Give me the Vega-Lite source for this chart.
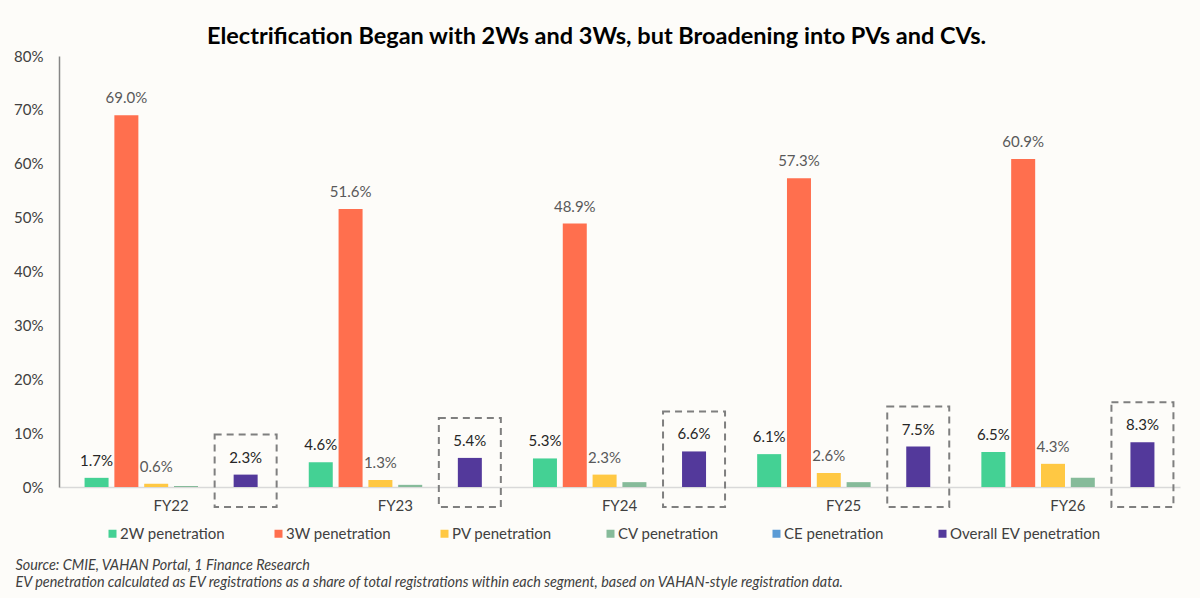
{
  "$schema": "https://vega.github.io/schema/vega-lite/v6.json",
  "width": 1121,
  "height": 431,
  "autosize": {"type": "none"},
  "padding": {"left": 59, "top": 56, "right": 20, "bottom": 111},
  "background": "#FDFCF9",
  "title": {
    "text": "Electrification Began with 2Ws and 3Ws, but Broadening into PVs and CVs.",
    "font": "Lato",
    "fontSize": 23.5,
    "fontWeight": "bold",
    "color": "#000000",
    "anchor": "middle",
    "dx": -23,
    "offset": 1
  },
  "data": {
    "values": [
      {"year": "FY22", "series": "2W penetration", "value": 0.017},
      {"year": "FY22", "series": "3W penetration", "value": 0.690},
      {"year": "FY22", "series": "PV penetration", "value": 0.006},
      {"year": "FY22", "series": "CV penetration", "value": 0.002},
      {"year": "FY22", "series": "CE penetration", "value": 0},
      {"year": "FY22", "series": "Overall EV penetration", "value": 0.023},
      {"year": "FY23", "series": "2W penetration", "value": 0.046},
      {"year": "FY23", "series": "3W penetration", "value": 0.516},
      {"year": "FY23", "series": "PV penetration", "value": 0.013},
      {"year": "FY23", "series": "CV penetration", "value": 0.004},
      {"year": "FY23", "series": "CE penetration", "value": 0},
      {"year": "FY23", "series": "Overall EV penetration", "value": 0.054},
      {"year": "FY24", "series": "2W penetration", "value": 0.053},
      {"year": "FY24", "series": "3W penetration", "value": 0.489},
      {"year": "FY24", "series": "PV penetration", "value": 0.023},
      {"year": "FY24", "series": "CV penetration", "value": 0.009},
      {"year": "FY24", "series": "CE penetration", "value": 0},
      {"year": "FY24", "series": "Overall EV penetration", "value": 0.066},
      {"year": "FY25", "series": "2W penetration", "value": 0.061},
      {"year": "FY25", "series": "3W penetration", "value": 0.573},
      {"year": "FY25", "series": "PV penetration", "value": 0.026},
      {"year": "FY25", "series": "CV penetration", "value": 0.009},
      {"year": "FY25", "series": "CE penetration", "value": 0},
      {"year": "FY25", "series": "Overall EV penetration", "value": 0.075},
      {"year": "FY26", "series": "2W penetration", "value": 0.065},
      {"year": "FY26", "series": "3W penetration", "value": 0.609},
      {"year": "FY26", "series": "PV penetration", "value": 0.043},
      {"year": "FY26", "series": "CV penetration", "value": 0.017},
      {"year": "FY26", "series": "CE penetration", "value": 0},
      {"year": "FY26", "series": "Overall EV penetration", "value": 0.083}
    ]
  },
  "encoding": {
    "x": {
      "field": "year",
      "type": "nominal",
      "scale": {"paddingInner": 0.228, "paddingOuter": 0.114},
      "axis": {
        "labelAngle": 0,
        "labelFont": "Lato",
        "labelFontSize": 15,
        "labelColor": "#404040",
        "labelPadding": 11,
        "ticks": false,
        "domainColor": "#D9D9D9",
        "domainWidth": 1.5,
        "title": [
          "Source: CMIE, VAHAN Portal, 1 Finance Research",
          "EV penetration calculated as EV registrations as a share of total registrations within each segment, based on VAHAN-style registration data."
        ],
        "titleFont": "Lato",
        "titleFontSize": 14.4,
        "titleFontStyle": "italic",
        "titleFontWeight": "normal",
        "titleColor": "#404040",
        "titleAlign": "left",
        "titleAnchor": "start",
        "titleBaseline": "alphabetic",
        "titleLineHeight": 17,
        "titleX": -44,
        "titleY": 82
      }
    },
    "xOffset": {
      "field": "series",
      "type": "nominal",
      "scale": {
        "domain": ["2W penetration", "3W penetration", "PV penetration", "CV penetration", "CE penetration", "Overall EV penetration"],
        "paddingInner": 0.195,
        "paddingOuter": 0
      }
    },
    "y": {
      "field": "value",
      "type": "quantitative",
      "scale": {"domain": [0, 0.8], "nice": false},
      "axis": {
        "values": [0, 0.1, 0.2, 0.3, 0.4, 0.5, 0.6, 0.7, 0.8],
        "format": ".0%",
        "grid": false,
        "ticks": false,
        "title": null,
        "labelFont": "Lato",
        "labelFontSize": 15,
        "labelColor": "#404040",
        "labelPadding": 16,
        "domainColor": "#868686",
        "domainWidth": 1.5
      }
    }
  },
  "layer": [
    {
      "mark": {"type": "bar"},
      "encoding": {
        "color": {
          "field": "series",
          "type": "nominal",
          "scale": {
            "domain": ["2W penetration", "3W penetration", "PV penetration", "CV penetration", "CE penetration", "Overall EV penetration"],
            "range": ["#44D194", "#FF6F4E", "#FFC843", "#86BB9A", "#5B9BD5", "#53399B"]
          },
          "legend": {
            "title": null,
            "orient": "none",
            "direction": "horizontal",
            "columns": 6,
            "gridAlign": "all",
            "columnPadding": 0,
            "legendX": 46,
            "legendY": 470,
            "symbolType": "square",
            "symbolSize": 64,
            "symbolStrokeWidth": 0,
            "labelFont": "Lato",
            "labelFontSize": 15,
            "labelColor": "#404040",
            "labelOffset": 0
          }
        }
      }
    },
    {
      "transform": [{"filter": "datum.series === 'Overall EV penetration'"}],
      "mark": {
        "type": "bar",
        "width": 62,
        "fill": null,
        "fillOpacity": 0,
        "stroke": "#7F7F7F",
        "strokeWidth": 2,
        "strokeDash": [7, 5],
        "yOffset": -40,
        "y2Offset": 20
      },
      "encoding": {
        "y2": {"datum": 0}
      }
    },
    {
      "transform": [{"filter": "datum.series === '2W penetration' || datum.series === 'Overall EV penetration'"}],
      "mark": {"type": "text", "baseline": "alphabetic", "dy": -12, "font": "Lato", "fontSize": 15, "color": "#262626"},
      "encoding": {
        "text": {"field": "value", "type": "quantitative", "format": ".1%"}
      }
    },
    {
      "transform": [{"filter": "datum.series === '3W penetration' || datum.series === 'PV penetration'"}],
      "mark": {"type": "text", "baseline": "alphabetic", "dy": -12, "font": "Lato", "fontSize": 15, "color": "#595959"},
      "encoding": {
        "text": {"field": "value", "type": "quantitative", "format": ".1%"}
      }
    }
  ],
  "config": {"view": {"stroke": null}}
}
